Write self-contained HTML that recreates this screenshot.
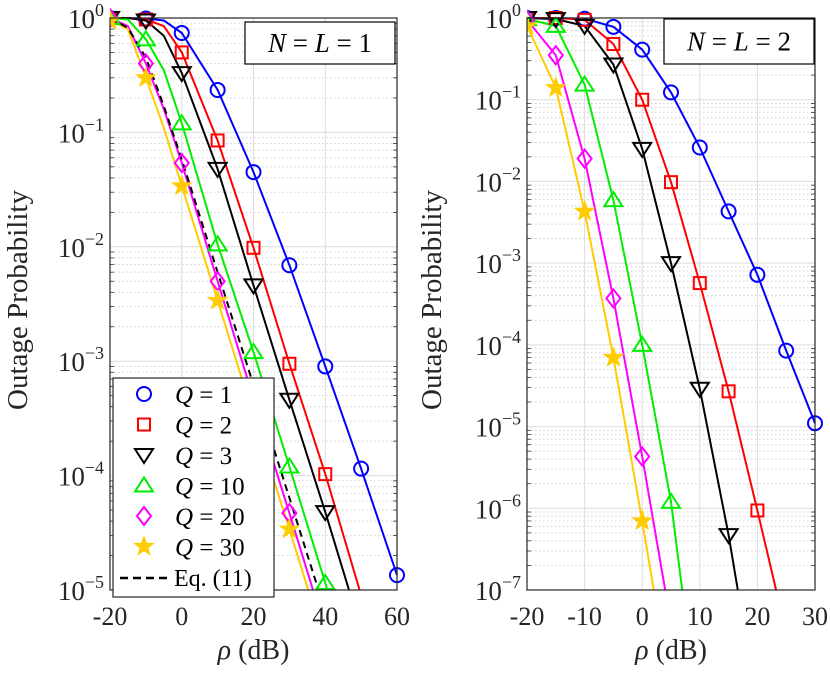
<!DOCTYPE html>
<html><head><meta charset="utf-8"><style>
html,body{margin:0;padding:0;background:#fff;width:830px;height:675px;overflow:hidden;}
svg{display:block;font-family:"Liberation Serif",serif;}
</style></head><body>
<svg id="chart" width="830" height="675" xmlns="http://www.w3.org/2000/svg"></svg>
<script>
// ---- data: left panel (N=L=1) ----
const leftX = [-20,-15,-10,-5,0,10,20,30,40,50,60];
const leftQ1 = [1,1,0.99,0.95,0.74,0.235,0.045,0.0069,9e-4,1.15e-4,1.35e-5];
const leftQ2 = [1,1,0.97,0.85,0.5,0.085,0.0098,9.5e-4,1.03e-4,9e-6,null];
const leftQ3 = [1,1,0.95,0.7,0.33,0.048,0.0046,4.6e-4,4.8e-5,4.5e-6,null];
const leftQ10 = [1,0.97,0.65,0.35,0.12,0.0105,1.2e-3,1.2e-4,1.15e-5,1.1e-6,null];
const leftQ20 = [1,0.85,0.4,0.16,0.054,0.005,4.7e-4,4.7e-5,4.5e-6,null,null];
const leftQ30 = [0.95,0.8,0.3,0.11,0.034,0.0034,3.3e-4,3.4e-5,3.3e-6,null,null];
const leftEq = [1,0.82,0.45,0.17,0.058,0.006,6.2e-4,6.4e-5,6.5e-6,null,null];
// ---- data: right panel (N=L=2) ----
const rightX = [-20,-15,-10,-5,0,5,10,15,20,25,30];
const rightQ1 = [1,1,0.98,0.78,0.41,0.123,0.026,0.0043,7.2e-4,8.5e-5,1.1e-5];
const rightQ2 = [1,1,0.95,0.48,0.10,0.0098,5.7e-4,2.7e-5,9.4e-7,3e-8,null];
const rightQ3 = [1,0.97,0.8,0.27,0.025,1.0e-3,2.9e-5,4.7e-7,3.7e-9,null,null];
const rightQ10 = [0.97,0.8,0.153,0.0059,1.0e-4,1.2e-6,2e-9,null,null,null,null];
const rightQ20 = [0.95,0.35,0.019,3.7e-4,4.3e-6,3.9e-8,null,null,null,null,null];
const rightQ30 = [0.8,0.14,0.0043,7e-5,7e-7,5.5e-9,null,null,null,null,null];
const legendLabels = ["1","2","3","10","20","30"];
const leftXTicks = [-20,0,20,40,60];
const rightXTicks = [-20,-10,0,10,20,30];

const NS="http://www.w3.org/2000/svg";
const svg=document.getElementById('chart');
function el(tag,attrs,parent){const e=document.createElementNS(NS,tag);for(const k in attrs)e.setAttribute(k,attrs[k]);(parent||svg).appendChild(e);return e;}

const colors=['#0000ff','#ff0000','#000000','#00ee00','#ff00ff','#ffcc00'];
const shapes=['circle','square','tridown','triup','diamond','star'];

function marker(g,shape,x,y,c){
  let m;
  if(shape==='circle') m=el('circle',{cx:x,cy:y,r:7,fill:'none',stroke:c,'stroke-width':2},g);
  else if(shape==='square') m=el('rect',{x:x-6,y:y-6,width:12,height:12,fill:'none',stroke:c,'stroke-width':2},g);
  else if(shape==='tridown') m=el('polygon',{points:`${x-9},${y-6} ${x+9},${y-6} ${x},${y+8}`,fill:'none',stroke:c,'stroke-width':2},g);
  else if(shape==='triup') m=el('polygon',{points:`${x-9},${y+6} ${x+9},${y+6} ${x},${y-8}`,fill:'none',stroke:c,'stroke-width':2},g);
  else if(shape==='diamond') m=el('polygon',{points:`${x},${y-9} ${x+7},${y} ${x},${y+9} ${x-7},${y}`,fill:'none',stroke:c,'stroke-width':2},g);
  else {
    let p=[];for(let i=0;i<10;i++){const r=i%2?4:10;const a=-Math.PI/2+i*Math.PI/5;p.push((x+r*Math.cos(a)).toFixed(1)+','+(y+r*Math.sin(a)).toFixed(1));}
    m=el('polygon',{points:p.join(' '),fill:c,stroke:c,'stroke-width':1},g);
  }
  
  
}

function panel(cfg){
  const {x0,x1,y0,y1,xmin,xmax,dmin,id}=cfg;
  const xs=v=>x0+(v-xmin)/(xmax-xmin)*(x1-x0);
  const ys=v=>y0+(-Math.log10(v))/(-dmin)*(y1-y0);
  // build points in pixel space, truncating the polyline where it leaves the axes bottom
  function linePts(vals){
    const out=[];
    for(let j=0;j<cfg.xv.length;j++){
      const v=vals[j]; if(v==null) break;
      const px=xs(cfg.xv[j]), py=ys(v);
      if(py<=y1){out.push([px,py]);continue;}
      if(out.length){const [ax,ay]=out[out.length-1];const t=(y1-ay)/(py-ay);out.push([ax+t*(px-ax),y1]);}
      break;
    }
    return out.map(p=>p[0].toFixed(1)+','+p[1].toFixed(1)).join(' ');
  }
  const g=el('g',{});
  
  
  el('rect',{x:x0,y:y0,width:x1-x0,height:y1-y0,fill:'#fff'},g);
  for(let d=0;d>dmin;d--){for(let k=2;k<=9;k++){const y=ys(k*Math.pow(10,d-1));
    el('line',{x1:x0,x2:x1,y1:y,y2:y,stroke:'#cfcfcf','stroke-width':1,'stroke-dasharray':'1.5,2.5'},g);
    el('line',{x1:x0,x2:x0+4,y1:y,y2:y,stroke:'#333','stroke-width':0.8},g);
    el('line',{x1:x1-4,x2:x1,y1:y,y2:y,stroke:'#333','stroke-width':0.8},g);}}
  for(let d=0;d>=dmin;d--){const y=ys(Math.pow(10,d));
    el('line',{x1:x0,x2:x1,y1:y,y2:y,stroke:'#dcdcdc','stroke-width':1},g);
    const t=el('text',{x:x0-6,y:y+10,'text-anchor':'end','font-size':27,fill:'#262626'},g);
    
    
    t.textContent='10';
    const sup=el('tspan',{dy:-12,'font-size':18},t);sup.textContent=d===0?'0':'\u2212'+(-d);
  }
  cfg.ticks.forEach(v=>{const x=xs(v);
    el('line',{x1:x,x2:x,y1:y0,y2:y1,stroke:'#dcdcdc','stroke-width':1},g);
    const t=el('text',{x:x,y:y1+35,'text-anchor':'middle','font-size':26,fill:'#262626'},g);
    
    
    t.textContent=v;});
  const cid='clip-'+id;
  const cp=el('clipPath',{id:cid},g);el('rect',{x:x0,y:y0-14,width:x1-x0+14,height:y1-y0+14},cp);
  const sg=el('g',{'clip-path':`url(#${cid})`},g);
  cfg.series.forEach((s,i)=>{
    const l=el('polyline',{points:linePts(s),fill:'none',stroke:colors[i],'stroke-width':2},sg);
    
    
  });
  if(cfg.eq){
    const l=el('polyline',{points:linePts(cfg.eq),fill:'none',stroke:'#000','stroke-width':2,'stroke-dasharray':'7,5'},sg);
    
    }
  cfg.series.forEach((s,i)=>{cfg.xv.forEach((xv,j)=>{const v=s[j];
    if(v!=null&&xv%cfg.mstep===0&&v>=Math.pow(10,dmin)*0.999) marker(sg,shapes[i],xs(xv),ys(v),colors[i]);});});
  el('rect',{x:x0,y:y0,width:x1-x0,height:y1-y0,fill:'none',stroke:'#262626','stroke-width':1.2},g);
  const b=cfg.box;
  const bx=el('rect',{x:b[0],y:b[1],width:b[2],height:b[3],fill:'#fff',stroke:'#000','stroke-width':1.2},g);
  
  const tt=el('text',{x:b[0]+b[2]/2,y:b[1]+b[3]/2+9,'text-anchor':'middle','font-size':27},g);
  
  tt.innerHTML=`<tspan font-style="italic">N</tspan> = <tspan font-style="italic">L</tspan> = ${cfg.n}`;
  const xl=el('text',{x:(x0+x1)/2,y:659,'text-anchor':'middle','font-size':28,fill:'#262626'},g);
  
  xl.innerHTML='<tspan font-style="italic">ρ</tspan> (dB)';
  const yl=el('text',{x:0,y:0,'text-anchor':'middle','font-size':29,fill:'#262626',transform:`translate(${cfg.ylx},${cfg.ylc}) rotate(-90)`},g);
  
  yl.textContent='Outage Probability';
  return {xs,ys,g};
}

panel({id:'left',x0:110,x1:397,y0:18,y1:590,xmin:-20,xmax:60,dmin:-5,ticks:leftXTicks,xv:leftX,mstep:10,
  series:[leftQ1,leftQ2,leftQ3,leftQ10,leftQ20,leftQ30],eq:leftEq,box:[245,22,150,42],n:1,ylx:27,ylc:300});
panel({id:'right',x0:527,x1:815,y0:18,y1:590,xmin:-20,xmax:30,dmin:-7,ticks:rightXTicks,xv:rightX,mstep:5,
  series:[rightQ1,rightQ2,rightQ3,rightQ10,rightQ20,rightQ30],box:[664,19,150,45],n:2,ylx:441,ylc:300});

const lg=el('g',{});

el('rect',{x:113,y:378,width:161,height:219,fill:'#fff',stroke:'#262626','stroke-width':1.2},lg);
legendLabels.forEach((lab,i)=>{const y=394+i*30.5;
  const e=el('g',{},lg);
  
  
  marker(e,shapes[i],144,y,colors[i]);
  const t=el('text',{x:175,y:y+9,'font-size':25},e);
  t.innerHTML=`<tspan font-style="italic">Q</tspan> = ${lab}`;
});
const ee=el('g',{},lg);


el('line',{x1:120,x2:170,y1:578,y2:578,stroke:'#000','stroke-width':2.5,'stroke-dasharray':'8,5'},ee);
const et=el('text',{x:174,y:586,'font-size':24},ee);et.textContent='Eq. (11)';
</script>
</body></html>
